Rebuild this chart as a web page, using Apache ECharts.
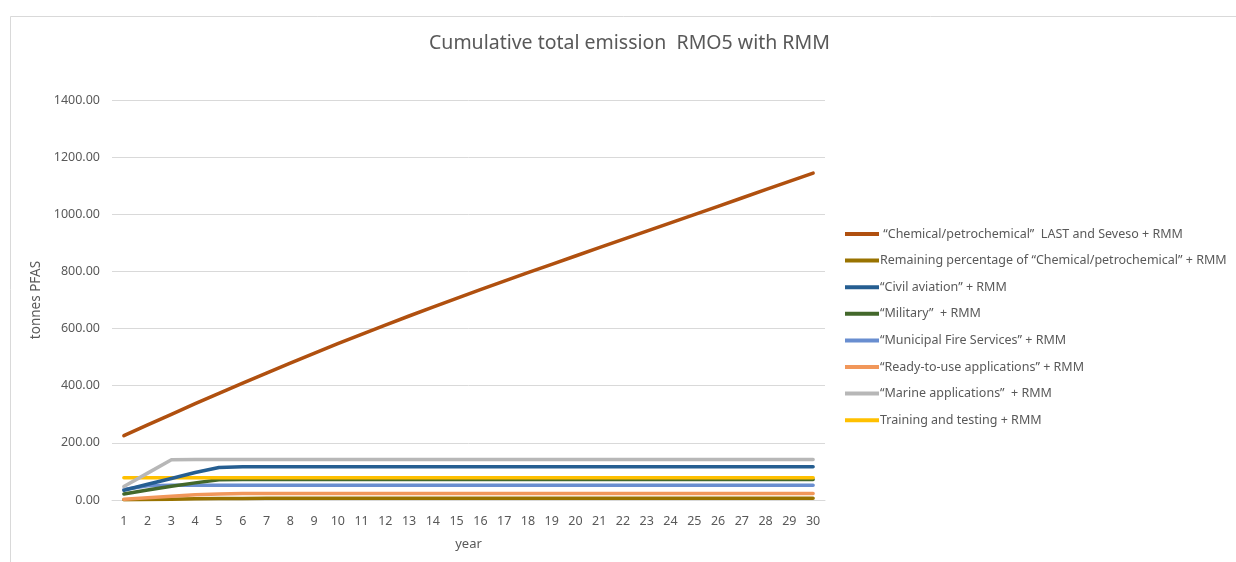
<!DOCTYPE html>
<html>
<head>
<meta charset="utf-8">
<script src="https://cdn.jsdelivr.net/npm/echarts@6/dist/echarts.min.js"></script>
<style>
  html, body { margin: 0; padding: 0; background: #fff; }
  #chart { width: 1236px; height: 562px; }
</style>
</head>
<body>
<div id="chart"></div>
<script>
// Years on the horizontal axis
const years = Array.from({ length: 30 }, (_, i) => String(i + 1));

// Cumulative emissions per sector (tonnes PFAS)
const chemicalLastSeveso = [225, 263, 300, 337, 373, 409, 444, 479, 513, 547,
  580, 612, 644, 675, 706, 736, 766, 796, 825, 854,
  883, 912, 941, 970, 999, 1028, 1057, 1086, 1115, 1144];
const chemicalRemaining = [1, 2, 3, 4, 5, 5.5, 6, 6, 6, 6,
  6, 6, 6, 6, 6, 6, 6, 6, 6, 6,
  6, 6, 6, 6, 6, 6, 6, 6, 6, 6];
const civilAviation = [34, 55, 75, 96, 114, 116, 116, 116, 116, 116,
  116, 116, 116, 116, 116, 116, 116, 116, 116, 116,
  116, 116, 116, 116, 116, 116, 116, 116, 116, 116];
const military = [21, 35, 48, 60, 71, 72, 72, 72, 72, 72,
  72, 72, 72, 72, 72, 72, 72, 72, 72, 72,
  72, 72, 72, 72, 72, 72, 72, 72, 72, 72];
const municipalFire = [37, 50, 52, 52, 52, 52, 52, 52, 52, 52,
  52, 52, 52, 52, 52, 52, 52, 52, 52, 52,
  52, 52, 52, 52, 52, 52, 52, 52, 52, 52];
const readyToUse = [3, 8, 13, 18, 21, 23, 23, 23, 23, 23,
  23, 23, 23, 23, 23, 23, 23, 23, 23, 23,
  23, 23, 23, 23, 23, 23, 23, 23, 23, 23];
const marine = [47, 94, 141, 142, 142, 142, 142, 142, 142, 142,
  142, 142, 142, 142, 142, 142, 142, 142, 142, 142,
  142, 142, 142, 142, 142, 142, 142, 142, 142, 142];
const trainingTesting = [78, 78, 78, 78, 78, 78, 78, 78, 78, 78,
  78, 78, 78, 78, 78, 78, 78, 78, 78, 78,
  78, 78, 78, 78, 78, 78, 78, 78, 78, 78];

const seriesNames = [
  ' \u201CChemical/petrochemical\u201D  LAST and Seveso + RMM',
  'Remaining percentage of \u201CChemical/petrochemical\u201D + RMM',
  '\u201CCivil aviation\u201D + RMM',
  '\u201CMilitary\u201D  + RMM',
  '\u201CMunicipal Fire Services\u201D + RMM',
  '\u201CReady-to-use applications\u201D + RMM',
  '\u201CMarine applications\u201D  + RMM',
  'Training and testing + RMM'
];
const seriesData = [chemicalLastSeveso, chemicalRemaining, civilAviation, military,
  municipalFire, readyToUse, marine, trainingTesting];
const seriesColors = ['#B0500F', '#997300', '#255E91', '#43682B',
  '#698ED0', '#F1975A', '#B7B7B7', '#FFC000'];

const font = 'Noto Sans';
const textGray = '#595959';

// Draw order: later entries paint on top
const drawOrder = [1, 5, 4, 3, 7, 2, 6, 0];

const chart = echarts.init(document.getElementById('chart'));
chart.setOption({
  animation: false,
  backgroundColor: '#fff',
  textStyle: { fontFamily: font },
  title: {
    text: 'Cumulative total emission  RMO5 with RMM',
    left: 424,
    top: 28,
    textStyle: { fontFamily: font, fontSize: 19.5, fontWeight: 'normal', color: textGray }
  },
  graphic: [{
    type: 'rect',
    left: 8,
    top: 14,
    shape: { width: 1300, height: 600 },
    style: { fill: 'none', stroke: '#d9d9d9', lineWidth: 1 },
    silent: true
  }],
  legend: {
    orient: 'vertical',
    left: 840,
    top: 222,
    itemWidth: 34,
    itemHeight: 4,
    itemGap: 12.6,
    icon: 'rect',
    data: seriesNames,
    textStyle: {
      fontFamily: font, fontSize: 12.5, color: textGray, lineHeight: 14,
      padding: [0, 0, 0, -4]
    }
  },
  grid: { left: 112, right: 411, top: 100, bottom: 62 },
  xAxis: {
    type: 'category',
    data: years,
    boundaryGap: true,
    name: 'year',
    nameLocation: 'middle',
    nameGap: 38,
    nameTextStyle: { fontFamily: font, fontSize: 13, color: textGray },
    axisLine: { show: true, lineStyle: { color: '#d9d9d9' } },
    axisTick: { show: false },
    axisLabel: { fontFamily: font, fontSize: 12.5, color: textGray, margin: 15, interval: 0 },
    splitLine: { show: false }
  },
  yAxis: {
    type: 'value',
    min: 0,
    max: 1400,
    interval: 200,
    name: 'tonnes PFAS',
    nameLocation: 'middle',
    nameGap: 64,
    nameTextStyle: { fontFamily: font, fontSize: 13.5, color: textGray },
    axisLine: { show: false },
    axisTick: { show: false },
    axisLabel: {
      fontFamily: font, fontSize: 12.5, color: textGray, margin: 12,
      formatter: v => v.toFixed(2)
    },
    splitLine: { lineStyle: { color: '#d9d9d9', width: 1 } }
  },
  series: drawOrder.map(i => ({
    name: seriesNames[i],
    type: 'line',
    data: seriesData[i],
    showSymbol: false,
    symbol: 'none',
    z: 2 + drawOrder.indexOf(i),
    color: seriesColors[i],
    lineStyle: { width: 3.5, color: seriesColors[i], cap: 'round', join: 'round' }
  }))
});
</script>
</body>
</html>
